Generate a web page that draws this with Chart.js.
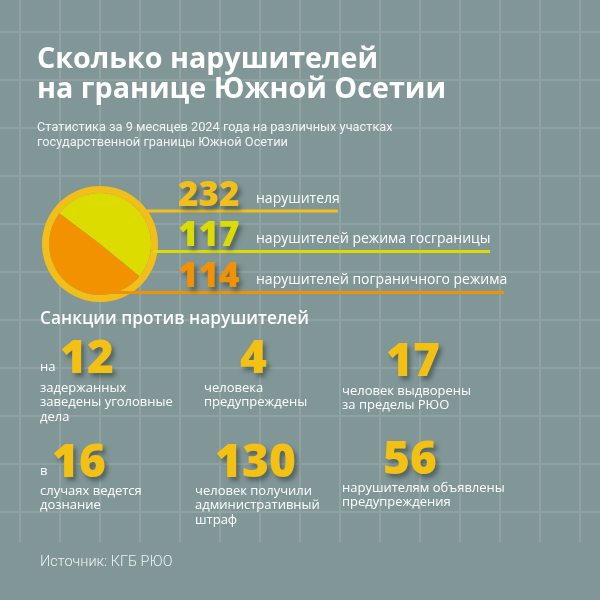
<!DOCTYPE html>
<html lang="ru">
<head>
<meta charset="utf-8">
<script src="https://cdn.jsdelivr.net/npm/chart.js@4.4.1/dist/chart.umd.min.js"></script>
<style>
  html, body { margin: 0; padding: 0; }
  body { width: 600px; height: 600px; background: #819696; position: relative; overflow: hidden; }
  #border_chart { position: absolute; left: 0; top: 0; }
  .txt { position: absolute; white-space: pre; color: #fff; }
  .big { text-shadow: 3px 4px 4px rgba(45, 62, 62, 0.55); }
</style>
</head>
<body>
<canvas id="border_chart" width="600" height="600"></canvas>
<script>
// data
const pieLabels = ['нарушителей режима госграницы', 'нарушителей пограничного режима'];
const pieValues = [117, 114];
const pieColors = ['#DCDC00', '#F39200'];
const totalValue = 232;
const totalLabel = 'нарушителя';
const totalColor = '#F2BF1A';

const sanctionValues = [12, 4, 17, 16, 130, 56];
const sanctionPrefixes = ['на', '', '', 'в', '', ''];
const sanctionTexts = [
    'задержанных\nзаведены уголовные\nдела',
    'человека\nпредупреждены',
    'человек выдворены\nза пределы РЮО',
    'случаях ведется\nдознание',
    'человек получили\nадминистративный\nштраф',
    'нарушителям объявлены\nпредупреждения'
];

const titleText = 'Сколько нарушителей\nна границе Южной Осетии';
const subtitleText = 'Статистика за 9 месяцев 2024 года на различных участках\nгосударственной границы Южной Осетии';
const sectionText = 'Санкции против нарушителей';
const sourceText = 'Источник: КГБ РЮО';

// font name + half of (ascent - descent), used to put text on a baseline
const OPEN = ['"Open Sans", sans-serif', 0.388];
const ROBOTO = ['Roboto, sans-serif', 0.342];

function put(text, x, base, size, lh, font, weight, color, cls) {
    const d = document.createElement('div');
    d.className = 'txt' + (cls ? ' ' + cls : '');
    d.textContent = text;
    d.style.left = x + 'px';
    d.style.top = (base - lh / 2 - font[1] * size) + 'px';
    d.style.fontSize = size + 'px';
    d.style.lineHeight = lh + 'px';
    d.style.fontFamily = font[0];
    d.style.fontWeight = weight;
    if (color) d.style.color = color;
    document.body.appendChild(d);
}

// header
put(titleText, 37, 68, 28.7, 30, OPEN, 700);
put(subtitleText, 37, 131, 12.8, 15, ROBOTO, 400, '#f2f4f4');

// pie legend numbers
const legendValues = [totalValue].concat(pieValues);
const legendTexts = [totalLabel].concat(pieLabels);
const legendColors = [totalColor].concat(pieColors);
const legendBase = [207, 247, 288];
legendValues.forEach((v, i) => {
    put(String(v), 178, legendBase[i], 35, 40, OPEN, 800, legendColors[i], 'big');
    put(legendTexts[i], 256, legendBase[i] - 4, 14, 16, OPEN, 400);
});

// sanctions
put(sectionText, 40, 325, 17.3, 22, OPEN, 600);
const sX = [60, 240, 386, 52, 215, 383];
const sBase = [373, 373, 376, 477, 477, 474];
const sTextX = [40, 204, 342, 40, 195, 342];
const sTextBase = [392, 392, 395, 495, 495, 492];
sanctionValues.forEach((v, i) => {
    put(String(v), sX[i], sBase[i], 46, 50, OPEN, 800, '#F2C114', 'big');
    if (sanctionPrefixes[i]) put(sanctionPrefixes[i], 40, sBase[i] - 1, 13, 15, OPEN, 400);
    put(sanctionTexts[i], sTextX[i], sTextBase[i], 13, 14.5, OPEN, 400);
});

put(sourceText, 40, 566, 14.5, 17, ROBOTO, 300, '#eef1f1');

// background grid behind the chart
const gridPlugin = {
    id: 'grid',
    beforeDraw(chart) {
        const c = chart.ctx;
        c.save();
        c.strokeStyle = 'rgba(255, 255, 255, 0.12)';
        c.lineWidth = 2;
        c.beginPath();
        for (let x = 20; x <= 580; x += 40) {
            c.moveTo(x, 0);
            c.lineTo(x, 542);
        }
        for (let y = 32; y <= 512; y += 48) {
            c.moveTo(0, y);
            c.lineTo(600, y);
        }
        c.stroke();
        c.restore();
    }
};

// underlines running from the circle to the labels
const leaderPlugin = {
    id: 'leaders',
    afterDraw(chart) {
        const c = chart.ctx;
        const rows = [[147, 211, 338], [153, 251.5, 490], [110, 292.5, 504]];
        c.save();
        rows.forEach((r, i) => {
            c.fillStyle = legendColors[i];
            c.fillRect(r[0], r[1] - 1.5, r[2] - r[0], 3);
        });
        c.restore();
    }
};

const ctx = document.getElementById('border_chart').getContext('2d');

new Chart(ctx, {
    type: 'doughnut',
    data: {
        labels: pieLabels,
        datasets: [
            {
                label: totalLabel,
                data: [totalValue],
                backgroundColor: [totalColor],
                borderWidth: 0,
                weight: 7
            },
            {
                data: pieValues,
                backgroundColor: pieColors,
                borderWidth: 0,
                weight: 51
            }
        ]
    },
    options: {
        responsive: false,
        animation: false,
        cutout: 0,
        rotation: -53,
        layout: {
            padding: { left: 42, right: 442, top: 186, bottom: 298 }
        },
        plugins: {
            legend: { display: false },
            tooltip: { enabled: false }
        }
    },
    plugins: [gridPlugin, leaderPlugin]
});
</script>
</body>
</html>
